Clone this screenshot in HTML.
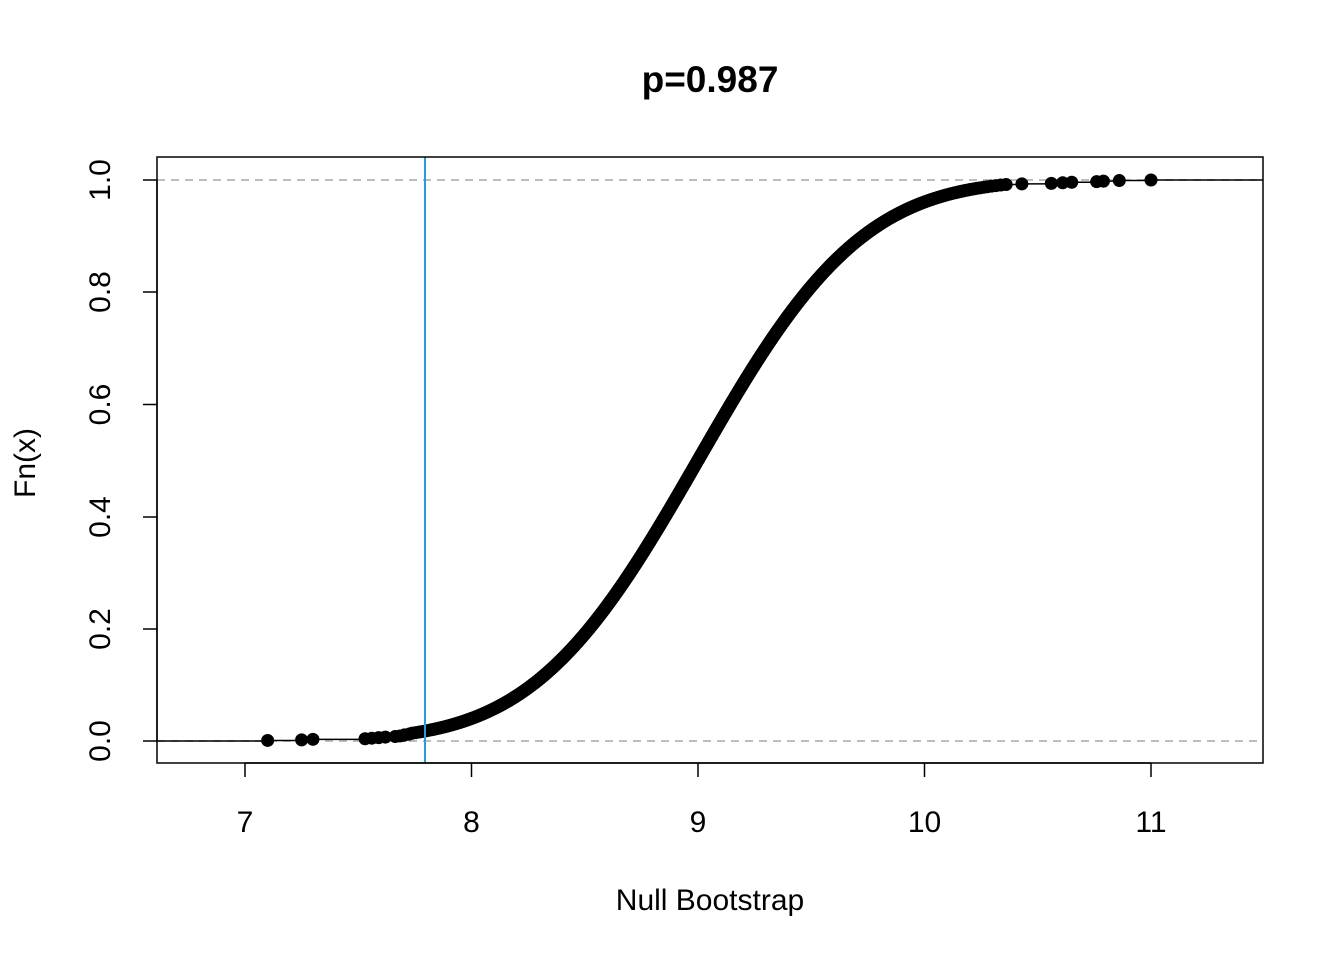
<!DOCTYPE html>
<html><head><meta charset="utf-8">
<style>body{margin:0;background:#fff}svg{display:block}text{font-family:"Liberation Sans",Arial,sans-serif}</style>
</head><body>
<svg id="s" width="1344" height="960" xmlns="http://www.w3.org/2000/svg">
<rect width="1344" height="960" fill="#fff"/>
<text x="710" y="92" font-size="37" font-weight="bold" text-anchor="middle">p=0.987</text>
<line x1="157" y1="180" x2="1263" y2="180" stroke="#bebebe" stroke-width="2" stroke-dasharray="8,6"/>
<line x1="157" y1="741" x2="1263" y2="741" stroke="#bebebe" stroke-width="2" stroke-dasharray="8,6"/>
<g id="g"></g>
<line x1="425" y1="157" x2="425" y2="763" stroke="#2b9be0" stroke-width="2"/>
<rect x="157" y="157" width="1106" height="606" fill="none" stroke="#000" stroke-width="1.5"/>
<g stroke="#000" stroke-width="1.5">
<line x1="245" y1="763" x2="1151" y2="763"/>
<line x1="245" y1="763" x2="245" y2="777"/><line x1="471.5" y1="763" x2="471.5" y2="777"/>
<line x1="698" y1="763" x2="698" y2="777"/><line x1="924.5" y1="763" x2="924.5" y2="777"/>
<line x1="1151" y1="763" x2="1151" y2="777"/>
<line x1="157" y1="180" x2="157" y2="741"/>
<line x1="143" y1="180" x2="157" y2="180"/><line x1="143" y1="292" x2="157" y2="292"/>
<line x1="143" y1="404.5" x2="157" y2="404.5"/><line x1="143" y1="517" x2="157" y2="517"/>
<line x1="143" y1="629" x2="157" y2="629"/><line x1="143" y1="741" x2="157" y2="741"/>
</g>
<g font-size="30" text-anchor="middle">
<text x="245" y="832">7</text><text x="471.5" y="832">8</text><text x="698" y="832">9</text>
<text x="924.5" y="832">10</text><text x="1151" y="832">11</text>
<text transform="translate(110,741) rotate(-90)">0.0</text>
<text transform="translate(110,629) rotate(-90)">0.2</text>
<text transform="translate(110,517) rotate(-90)">0.4</text>
<text transform="translate(110,404.5) rotate(-90)">0.6</text>
<text transform="translate(110,292) rotate(-90)">0.8</text>
<text transform="translate(110,180) rotate(-90)">1.0</text>
<text x="710" y="910">Null Bootstrap</text>
<text transform="translate(35,463) rotate(-90)">Fn(x)</text>
</g>
</svg>
<script>
function erf(x){var s=x<0?-1:1;x=Math.abs(x);var t=1/(1+0.3275911*x);var y=1-(((((1.061405429*t-1.453152027)*t)+1.421413741)*t-0.284496736)*t+0.254829592)*t*Math.exp(-x*x);return s*y;}
function Phi(z){return 0.5*(1+erf(z/Math.SQRT2));}
function qn(p){var lo=-6,hi=6;for(var i=0;i<60;i++){var m=(lo+hi)/2;if(Phi(m)<p)lo=m;else hi=m;}return (lo+hi)/2;}
var n=1000,xs=[];
for(var i=0;i<n;i++){xs.push(9.0+0.57*qn((i+0.5)/n));}
var left=[7.10,7.25,7.30,7.53,7.56,7.59,7.62,7.70,7.73],right=[10.43,10.56,10.61,10.65,10.76,10.79,10.86,11.0];
for(var i=0;i<left.length;i++)xs[i]=left[i];
for(var i=0;i<right.length;i++)xs[n-right.length+i]=right[i];
xs.sort(function(a,b){return a-b});
function X(v){return 245+(v-7)*226.5;}function Y(f){return 741-f*561;}
var g=document.getElementById('g'),ns='http://www.w3.org/2000/svg';
var d='M157,741 L'+X(xs[0])+',741';
for(var i=0;i<n;i++){var y=Y((i+1)/n);d+=' L'+X(xs[i])+','+y+' L'+(i<n-1?X(xs[i+1]):1263)+','+y;}
var p=document.createElementNS(ns,'path');p.setAttribute('d',d);p.setAttribute('fill','none');p.setAttribute('stroke','#000');p.setAttribute('stroke-width','1.5');g.appendChild(p);
for(var i=0;i<n;i++){var c=document.createElementNS(ns,'circle');c.setAttribute('cx',X(xs[i]));c.setAttribute('cy',Y((i+1)/n));c.setAttribute('r','6.5');c.setAttribute('fill','#000');g.appendChild(c);}
</script>
</body></html>
